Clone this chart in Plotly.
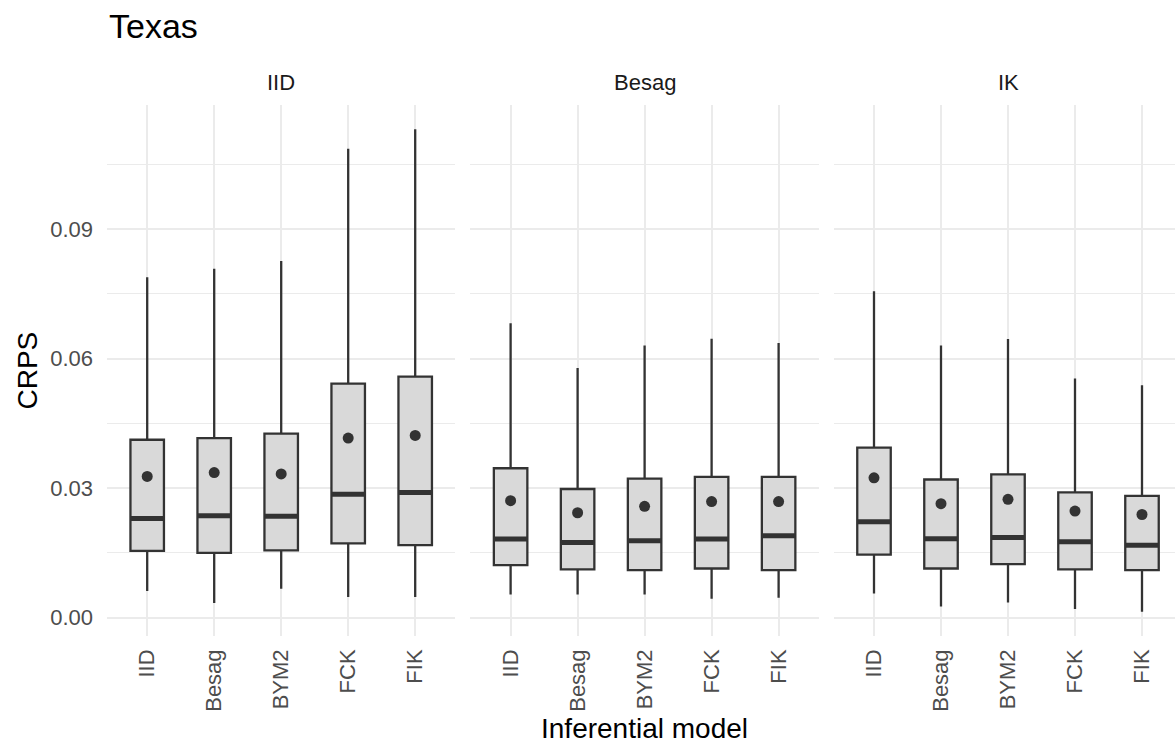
import plotly.graph_objects as go

# ---------------- data ----------------
panels = ["IID", "Besag", "IK"]
models = ["IID", "Besag", "BYM2", "FCK", "FIK"]

iid_lower = [0.0062, 0.0034, 0.0067, 0.0048, 0.0048]
iid_q1 = [0.0155, 0.0150, 0.0156, 0.0172, 0.0168]
iid_median = [0.0230, 0.0236, 0.0235, 0.0286, 0.0290]
iid_q3 = [0.0412, 0.0416, 0.0426, 0.0542, 0.0558]
iid_upper = [0.0788, 0.0808, 0.0826, 0.1086, 0.1131]
iid_mean = [0.0327, 0.0336, 0.0333, 0.0416, 0.0422]

besag_lower = [0.0054, 0.0054, 0.0054, 0.0044, 0.0046]
besag_q1 = [0.0122, 0.0112, 0.0110, 0.0114, 0.0110]
besag_median = [0.0182, 0.0174, 0.0178, 0.0182, 0.0190]
besag_q3 = [0.0346, 0.0298, 0.0322, 0.0326, 0.0326]
besag_upper = [0.0682, 0.0578, 0.0630, 0.0646, 0.0636]
besag_mean = [0.0271, 0.0243, 0.0258, 0.0269, 0.0269]

ik_lower = [0.0056, 0.0026, 0.0035, 0.0020, 0.0014]
ik_q1 = [0.0146, 0.0114, 0.0124, 0.0112, 0.0110]
ik_median = [0.0222, 0.0183, 0.0186, 0.0176, 0.0168]
ik_q3 = [0.0394, 0.0320, 0.0332, 0.0290, 0.0282]
ik_upper = [0.0756, 0.0630, 0.0645, 0.0554, 0.0538]
ik_mean = [0.0324, 0.0264, 0.0274, 0.0247, 0.0239]

y_ticks = [0.00, 0.03, 0.06, 0.09]
y_tick_labels = ["0.00", "0.03", "0.06", "0.09"]
y_minor = [0.015, 0.045, 0.075, 0.105]

panel_data = [
    (iid_lower, iid_q1, iid_median, iid_q3, iid_upper, iid_mean),
    (besag_lower, besag_q1, besag_median, besag_q3, besag_upper, besag_mean),
    (ik_lower, ik_q1, ik_median, ik_q3, ik_upper, ik_mean),
]

# ---------------- style ----------------
W, H = 1175, 753
ML, MT = 107, 105
PB = 635.6  # panel bottom px
MB = H - PB
plot_w = W - ML
plot_h = PB - MT
panel_px = 348.4
gap_px = 15
unit_px = panel_px / 5.2

DARK = "#333333"
FILL = "#D9D9D9"
GRID = "#EBEBEB"
FONT = "Liberation Sans, Arial, sans-serif"
BOX_W = 0.5

fig = go.Figure()
pos = list(range(1, len(models) + 1))

for p, (lo, q1, med, q3, up, mn) in enumerate(panel_data):
    xa = "x" if p == 0 else f"x{p+1}"
    ya = "y" if p == 0 else f"y{p+1}"
    fig.add_trace(go.Box(
        x=pos, q1=q1, median=med, q3=q3, lowerfence=lo, upperfence=up,
        width=BOX_W, whiskerwidth=0, fillcolor=FILL,
        line=dict(color=DARK, width=2.3), boxpoints=False,
        xaxis=xa, yaxis=ya, showlegend=False, hoverinfo="skip",
    ))
    # thick median bars
    mx, my = [], []
    for i, m in zip(pos, med):
        mx += [i - BOX_W / 2, i + BOX_W / 2, None]
        my += [m, m, None]
    fig.add_trace(go.Scatter(
        x=mx, y=my, mode="lines", line=dict(color=DARK, width=5),
        xaxis=xa, yaxis=ya, showlegend=False, hoverinfo="skip",
    ))
    fig.add_trace(go.Scatter(
        x=pos, y=mn, mode="markers",
        marker=dict(color=DARK, size=11, line=dict(width=0)),
        xaxis=xa, yaxis=ya, showlegend=False, hoverinfo="skip",
    ))

layout = dict(
    width=W, height=H,
    margin=dict(l=ML, r=0, t=MT, b=MB, pad=0),
    paper_bgcolor="white", plot_bgcolor="white",
    font=dict(family=FONT, color="#4D4D4D"),
    showlegend=False,
)

y_range = [-0.00423, 0.1187]
for p in range(3):
    x0 = p * (panel_px + gap_px)
    x1 = x0 + panel_px
    rng_hi = 5.6
    if ML + x1 > W:
        x1 = W - ML
        rng_hi = 0.4 + (x1 - x0) / unit_px
    xkey = "xaxis" if p == 0 else f"xaxis{p+1}"
    ykey = "yaxis" if p == 0 else f"yaxis{p+1}"
    ya = "y" if p == 0 else f"y{p+1}"
    xa = "x" if p == 0 else f"x{p+1}"
    layout[xkey] = dict(
        domain=[x0 / plot_w, x1 / plot_w], anchor=ya,
        range=[0.4, rng_hi], tickvals=pos, ticktext=models,
        tickangle=-90, tickfont=dict(size=22, color="#4D4D4D", family=FONT),
        showgrid=True, gridcolor=GRID, gridwidth=2,
        zeroline=False, showline=False, ticks="", ticklabelstandoff=8,
        fixedrange=True,
    )
    layout[ykey] = dict(
        domain=[0, 1], anchor=xa, range=y_range,
        tickvals=y_ticks, ticktext=y_tick_labels,
        showticklabels=(p == 0),
        tickfont=dict(size=22, color="#4D4D4D", family=FONT),
        showgrid=True, gridcolor=GRID, gridwidth=2,
        minor=dict(tickvals=y_minor, showgrid=True, gridcolor=GRID, gridwidth=1),
        zeroline=False, showline=False, ticks="", ticklabelstandoff=13,
        fixedrange=True,
    )
    if p > 0:
        layout[ykey]["matches"] = "y"

fig.update_layout(**layout)

annotations = []
for p, name in enumerate(panels):
    x0 = p * (panel_px + gap_px)
    cx = (x0 + panel_px / 2) / plot_w
    annotations.append(dict(
        text=name, x=cx, y=(PB - 83) / plot_h, xref="paper", yref="paper",
        xanchor="center", yanchor="middle", showarrow=False,
        font=dict(size=22, color="#1A1A1A", family=FONT),
    ))
# title
annotations.append(dict(
    text="Texas", x=0, y=(PB - 26) / plot_h, xref="paper", yref="paper",
    xanchor="left", yanchor="middle", showarrow=False,
    font=dict(size=34, color="black", family=FONT),
))
# axis titles
total_w = 3 * panel_px + 2 * gap_px
annotations.append(dict(
    text="Inferential model", x=(total_w / 2) / plot_w, y=(PB - 728) / plot_h,
    xref="paper", yref="paper", xanchor="center", yanchor="middle",
    showarrow=False, font=dict(size=28, color="black", family=FONT),
))
annotations.append(dict(
    text="CRPS", x=(27 - ML) / plot_w, y=0.5, xref="paper", yref="paper",
    xanchor="center", yanchor="middle", textangle=-90,
    showarrow=False, font=dict(size=28, color="black", family=FONT),
))
fig.update_layout(annotations=annotations)

fig.write_html(
    "out.html",
    config={"displayModeBar": False, "staticPlot": True},
    post_script="document.body.style.margin='0';document.body.style.padding='0';document.body.style.overflow='hidden';",
)
